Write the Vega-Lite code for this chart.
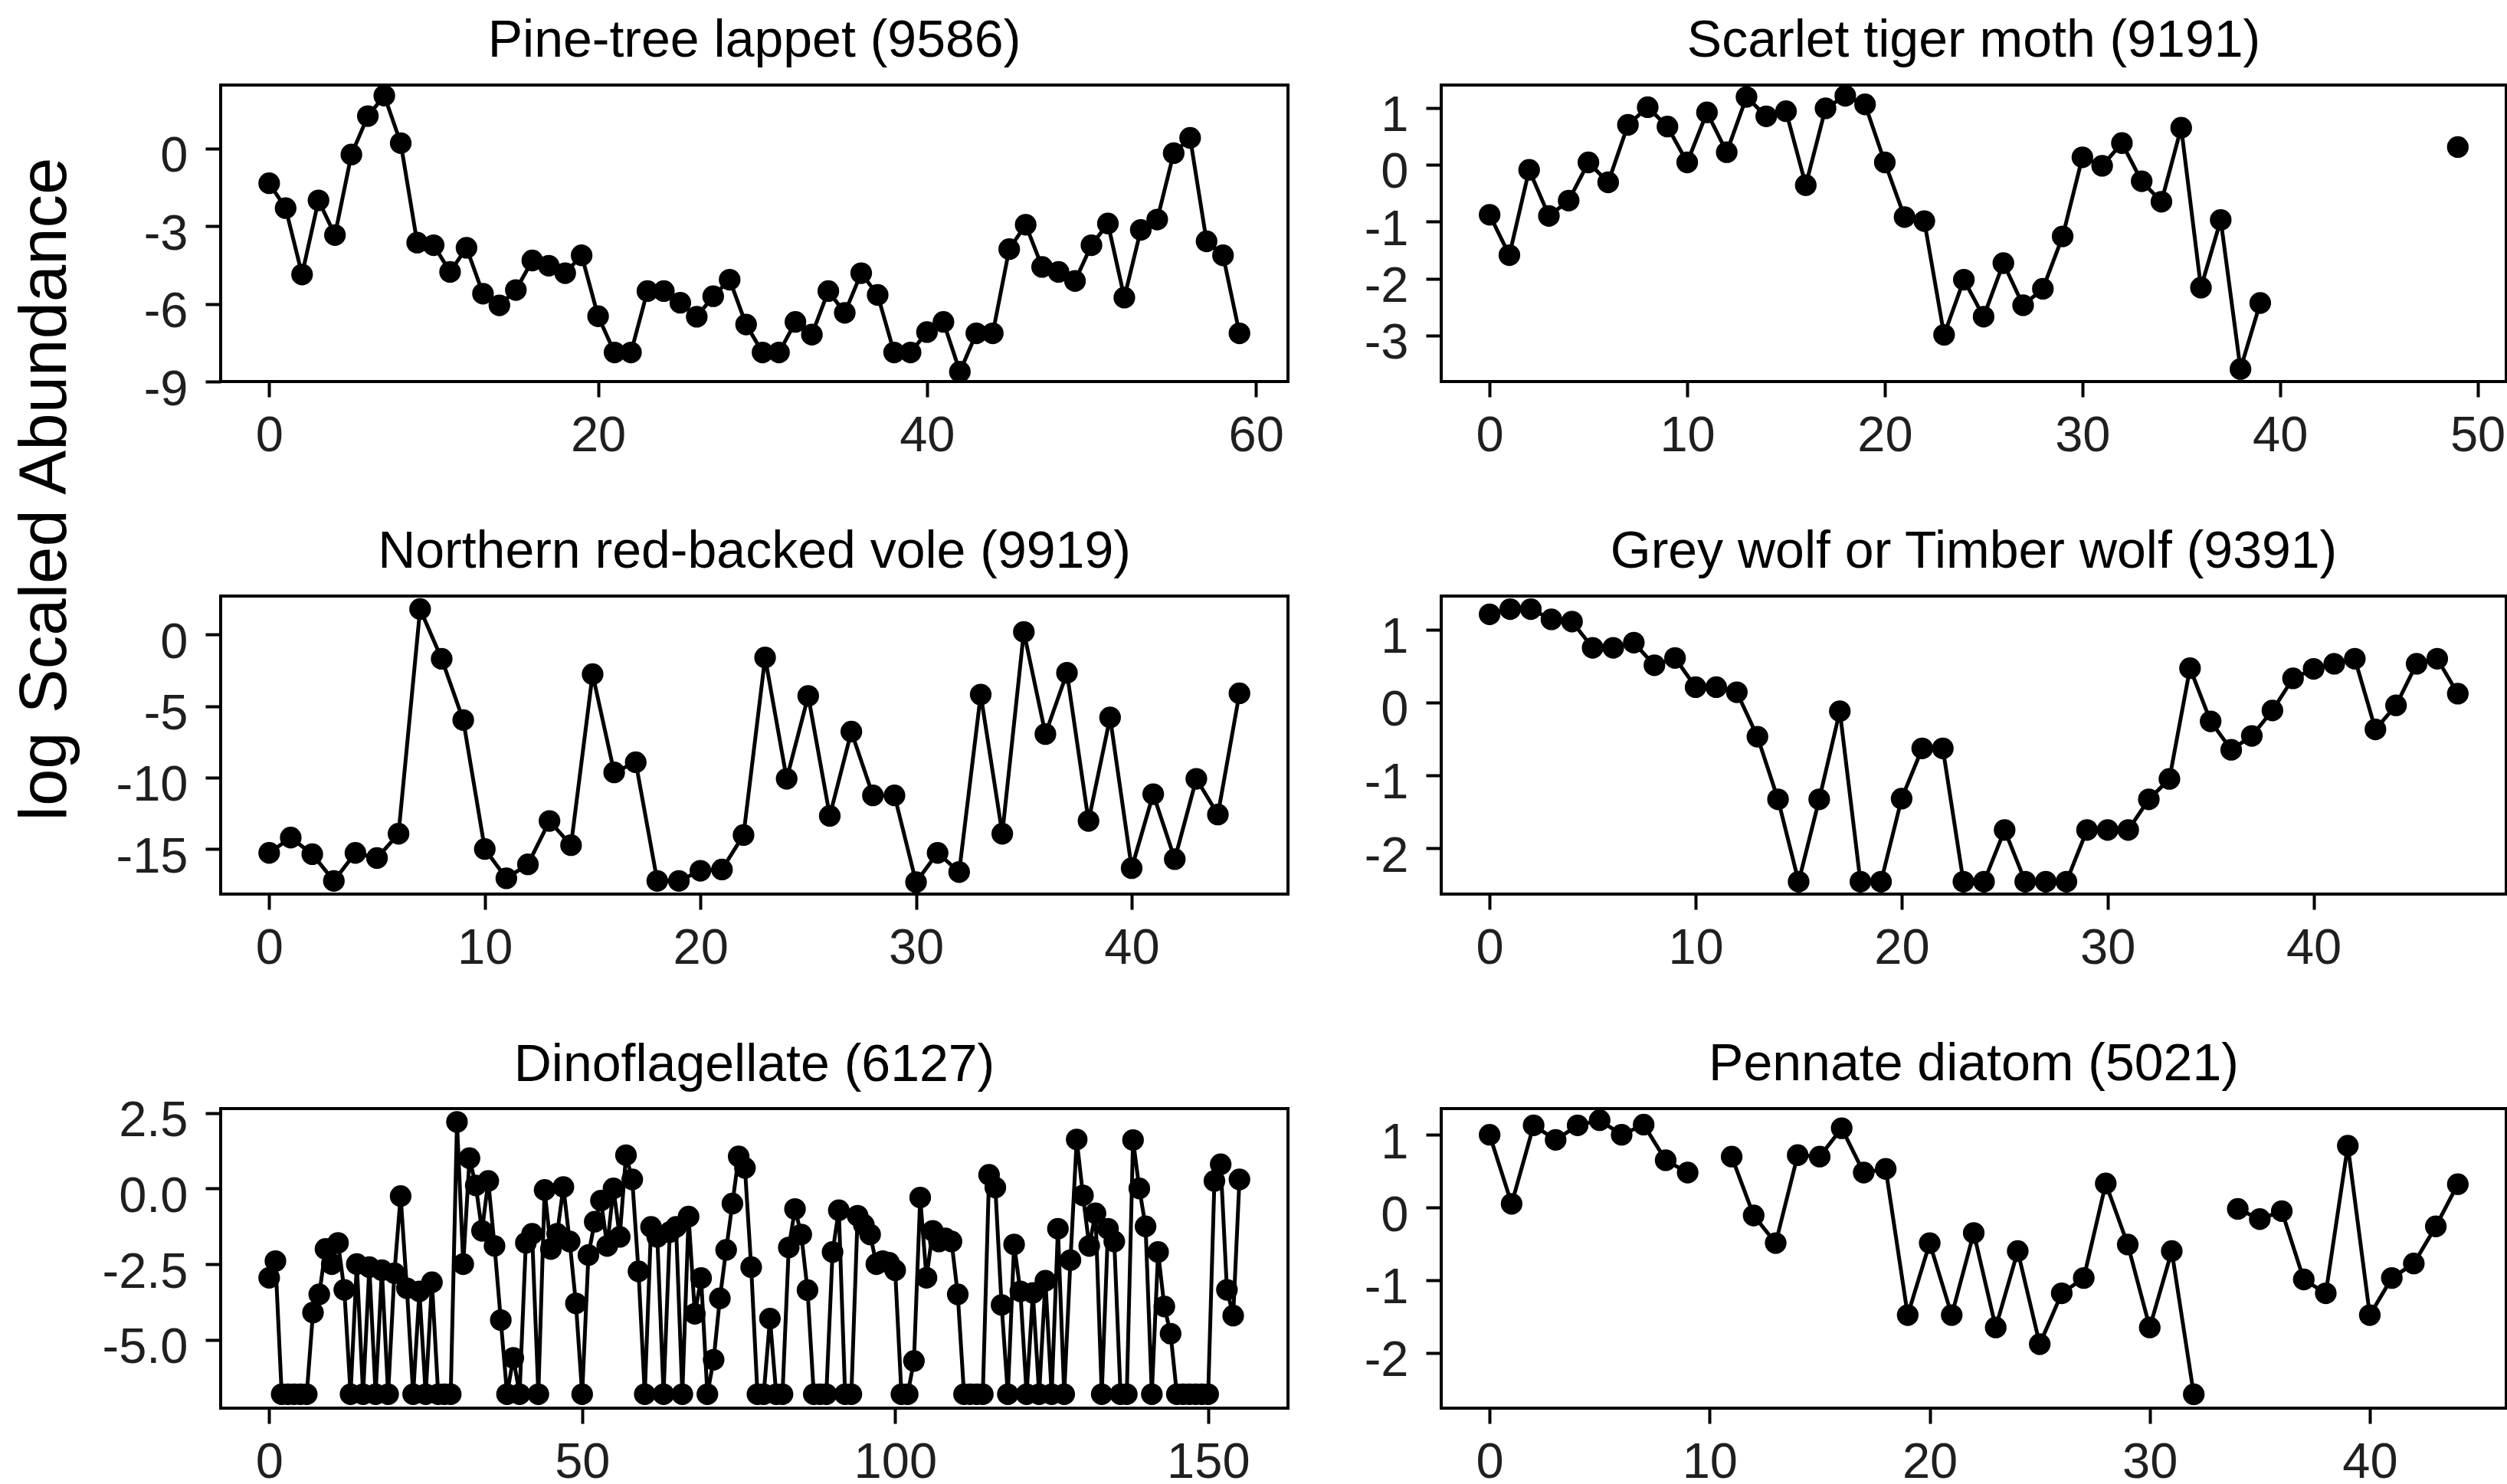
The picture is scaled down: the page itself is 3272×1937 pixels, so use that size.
{
  "$schema": "https://vega.github.io/schema/vega-lite/v6.json",
  "background": "white",
  "padding": {"left": 12, "top": 17, "right": 10, "bottom": 5},
  "autosize": {"type": "pad"},
  "columns": 2,
  "bounds": "flush",
  "spacing": {"row": 280, "column": 200},
  "datasets": {
    "p1": [
      {"t":0,"v":-1.35},{"t":1,"v":-2.31},{"t":2,"v":-4.87},{"t":3,"v":-2.01},{"t":4,"v":-3.35},{"t":5,"v":-0.24},{"t":6,"v":1.24},{"t":7,"v":2.03},{"t":8,"v":0.2},{"t":9,"v":-3.64},
      {"t":10,"v":-3.74},{"t":11,"v":-4.77},{"t":12,"v":-3.84},{"t":13,"v":-5.61},{"t":14,"v":-6.06},{"t":15,"v":-5.47},{"t":16,"v":-4.33},{"t":17,"v":-4.53},{"t":18,"v":-4.82},{"t":19,"v":-4.13},
      {"t":20,"v":-6.48},{"t":21,"v":-7.88},{"t":22,"v":-7.88},{"t":23,"v":-5.51},{"t":24,"v":-5.51},{"t":25,"v":-5.96},{"t":26,"v":-6.5},{"t":27,"v":-5.71},{"t":28,"v":-5.07},{"t":29,"v":-6.8},
      {"t":30,"v":-7.88},{"t":31,"v":-7.88},{"t":32,"v":-6.7},{"t":33,"v":-7.19},{"t":34,"v":-5.51},{"t":35,"v":-6.35},{"t":36,"v":-4.82},{"t":37,"v":-5.66},{"t":38,"v":-7.88},{"t":39,"v":-7.88},
      {"t":40,"v":-7.09},{"t":41,"v":-6.7},{"t":42,"v":-8.62},{"t":43,"v":-7.14},{"t":44,"v":-7.14},{"t":45,"v":-3.89},{"t":46,"v":-2.95},{"t":47,"v":-4.58},{"t":48,"v":-4.77},{"t":49,"v":-5.12},
      {"t":50,"v":-3.74},{"t":51,"v":-2.9},{"t":52,"v":-5.76},{"t":53,"v":-3.15},{"t":54,"v":-2.75},{"t":55,"v":-0.19},{"t":56,"v":0.4},{"t":57,"v":-3.59},{"t":58,"v":-4.13},{"t":59,"v":-7.14}
    ],
    "p2": [
      {"t":0,"v":-0.88},{"t":1,"v":-1.59},{"t":2,"v":-0.09},{"t":3,"v":-0.9},{"t":4,"v":-0.63},{"t":5,"v":0.04},{"t":6,"v":-0.31},{"t":7,"v":0.7},{"t":8,"v":1.01},{"t":9,"v":0.67},
      {"t":10,"v":0.04},{"t":11,"v":0.92},{"t":12,"v":0.22},{"t":13,"v":1.19},{"t":14,"v":0.85},{"t":15,"v":0.94},{"t":16,"v":-0.36},{"t":17,"v":0.99},{"t":18,"v":1.21},{"t":19,"v":1.06},
      {"t":20,"v":0.04},{"t":21,"v":-0.92},{"t":22,"v":-0.99},{"t":23,"v":-2.99},{"t":24,"v":-2.02},{"t":25,"v":-2.67},{"t":26,"v":-1.73},{"t":27,"v":-2.47},{"t":28,"v":-2.18},{"t":29,"v":-1.26},
      {"t":30,"v":0.13},{"t":31,"v":-0.02},{"t":32,"v":0.38},{"t":33,"v":-0.29},{"t":34,"v":-0.65},{"t":35,"v":0.65},{"t":36,"v":-2.16},{"t":37,"v":-0.97},{"t":38,"v":-3.59},{"t":39,"v":-2.43},
      {"t":40,"v":null},{"t":41,"v":null},{"t":42,"v":null},{"t":43,"v":null},{"t":44,"v":null},{"t":45,"v":null},{"t":46,"v":null},{"t":47,"v":null},{"t":48,"v":null},{"t":49,"v":0.31}
    ],
    "p3": [
      {"t":0,"v":-15.27},{"t":1,"v":-14.2},{"t":2,"v":-15.36},{"t":3,"v":-17.23},{"t":4,"v":-15.27},{"t":5,"v":-15.63},{"t":6,"v":-13.93},{"t":7,"v":1.78},{"t":8,"v":-1.7},{"t":9,"v":-5.98},
      {"t":10,"v":-15.0},{"t":11,"v":-17.05},{"t":12,"v":-16.07},{"t":13,"v":-13.04},{"t":14,"v":-14.73},{"t":15,"v":-2.77},{"t":16,"v":-9.64},{"t":17,"v":-8.93},{"t":18,"v":-17.23},{"t":19,"v":-17.23},
      {"t":20,"v":-16.52},{"t":21,"v":-16.43},{"t":22,"v":-14.02},{"t":23,"v":-1.61},{"t":24,"v":-10.09},{"t":25,"v":-4.29},{"t":26,"v":-12.68},{"t":27,"v":-6.79},{"t":28,"v":-11.25},{"t":29,"v":-11.25},
      {"t":30,"v":-17.32},{"t":31,"v":-15.27},{"t":32,"v":-16.61},{"t":33,"v":-4.2},{"t":34,"v":-13.93},{"t":35,"v":0.18},{"t":36,"v":-6.96},{"t":37,"v":-2.68},{"t":38,"v":-13.04},{"t":39,"v":-5.8},
      {"t":40,"v":-16.34},{"t":41,"v":-11.16},{"t":42,"v":-15.71},{"t":43,"v":-10.09},{"t":44,"v":-12.59},{"t":45,"v":-4.11}
    ],
    "p4": [
      {"t":0,"v":1.21},{"t":1,"v":1.28},{"t":2,"v":1.28},{"t":3,"v":1.14},{"t":4,"v":1.11},{"t":5,"v":0.75},{"t":6,"v":0.75},{"t":7,"v":0.82},{"t":8,"v":0.51},{"t":9,"v":0.61},
      {"t":10,"v":0.21},{"t":11,"v":0.21},{"t":12,"v":0.14},{"t":13,"v":-0.47},{"t":14,"v":-1.33},{"t":15,"v":-2.46},{"t":16,"v":-1.33},{"t":17,"v":-0.12},{"t":18,"v":-2.46},{"t":19,"v":-2.46},
      {"t":20,"v":-1.32},{"t":21,"v":-0.63},{"t":22,"v":-0.63},{"t":23,"v":-2.46},{"t":24,"v":-2.46},{"t":25,"v":-1.75},{"t":26,"v":-2.46},{"t":27,"v":-2.46},{"t":28,"v":-2.46},{"t":29,"v":-1.75},
      {"t":30,"v":-1.75},{"t":31,"v":-1.75},{"t":32,"v":-1.33},{"t":33,"v":-1.05},{"t":34,"v":0.47},{"t":35,"v":-0.26},{"t":36,"v":-0.65},{"t":37,"v":-0.46},{"t":38,"v":-0.11},{"t":39,"v":0.33},
      {"t":40,"v":0.46},{"t":41,"v":0.53},{"t":42,"v":0.6},{"t":43,"v":-0.37},{"t":44,"v":-0.04},{"t":45,"v":0.53},{"t":46,"v":0.6},{"t":47,"v":0.12}
    ],
    "p5": [
      {"t":0,"v":-2.95},{"t":1,"v":-2.4},{"t":2,"v":-6.8},{"t":3,"v":-6.8},{"t":4,"v":-6.8},{"t":5,"v":-6.8},{"t":6,"v":-6.8},{"t":7,"v":-4.1},{"t":8,"v":-3.5},{"t":9,"v":-2.0},
      {"t":10,"v":-2.5},{"t":11,"v":-1.8},{"t":12,"v":-3.35},{"t":13,"v":-6.8},{"t":14,"v":-2.5},{"t":15,"v":-6.8},{"t":16,"v":-2.6},{"t":17,"v":-6.8},{"t":18,"v":-2.7},{"t":19,"v":-6.8},
      {"t":20,"v":-2.8},{"t":21,"v":-0.25},{"t":22,"v":-3.3},{"t":23,"v":-6.8},{"t":24,"v":-3.4},{"t":25,"v":-6.8},{"t":26,"v":-3.1},{"t":27,"v":-6.8},{"t":28,"v":-6.8},{"t":29,"v":-6.8},
      {"t":30,"v":2.2},{"t":31,"v":-2.5},{"t":32,"v":1.0},{"t":33,"v":0.1},{"t":34,"v":-1.4},{"t":35,"v":0.25},{"t":36,"v":-1.9},{"t":37,"v":-4.35},{"t":38,"v":-6.8},{"t":39,"v":-5.6},
      {"t":40,"v":-6.8},{"t":41,"v":-1.8},{"t":42,"v":-1.5},{"t":43,"v":-6.8},{"t":44,"v":-0.05},{"t":45,"v":-2.0},{"t":46,"v":-1.5},{"t":47,"v":0.05},{"t":48,"v":-1.75},{"t":49,"v":-3.8},
      {"t":50,"v":-6.8},{"t":51,"v":-2.2},{"t":52,"v":-1.1},{"t":53,"v":-0.4},{"t":54,"v":-1.9},{"t":55,"v":0.0},{"t":56,"v":-1.6},{"t":57,"v":1.1},{"t":58,"v":0.3},{"t":59,"v":-2.74},
      {"t":60,"v":-6.8},{"t":61,"v":-1.27},{"t":62,"v":-1.6},{"t":63,"v":-6.8},{"t":64,"v":-1.44},{"t":65,"v":-1.27},{"t":66,"v":-6.8},{"t":67,"v":-0.93},{"t":68,"v":-4.14},{"t":69,"v":-2.96},
      {"t":70,"v":-6.8},{"t":71,"v":-5.66},{"t":72,"v":-3.63},{"t":73,"v":-2.03},{"t":74,"v":-0.5},{"t":75,"v":1.06},{"t":76,"v":0.68},{"t":77,"v":-2.6},{"t":78,"v":-6.8},{"t":79,"v":-6.8},
      {"t":80,"v":-4.3},{"t":81,"v":-6.8},{"t":82,"v":-6.8},{"t":83,"v":-1.95},{"t":84,"v":-0.68},{"t":85,"v":-1.52},{"t":86,"v":-3.36},{"t":87,"v":-6.8},{"t":88,"v":-6.8},{"t":89,"v":-6.8},
      {"t":90,"v":-2.1},{"t":91,"v":-0.72},{"t":92,"v":-6.8},{"t":93,"v":-6.8},{"t":94,"v":-0.9},{"t":95,"v":-1.2},{"t":96,"v":-1.52},{"t":97,"v":-2.5},{"t":98,"v":-2.4},{"t":99,"v":-2.45},
      {"t":100,"v":-2.7},{"t":101,"v":-6.8},{"t":102,"v":-6.8},{"t":103,"v":-5.7},{"t":104,"v":-0.3},{"t":105,"v":-2.95},{"t":106,"v":-1.4},{"t":107,"v":-1.75},{"t":108,"v":-1.65},{"t":109,"v":-1.75},
      {"t":110,"v":-3.5},{"t":111,"v":-6.8},{"t":112,"v":-6.8},{"t":113,"v":-6.8},{"t":114,"v":-6.8},{"t":115,"v":0.45},{"t":116,"v":0.03},{"t":117,"v":-3.85},{"t":118,"v":-6.8},{"t":119,"v":-1.85},
      {"t":120,"v":-3.4},{"t":121,"v":-6.8},{"t":122,"v":-3.45},{"t":123,"v":-6.8},{"t":124,"v":-3.05},{"t":125,"v":-6.8},{"t":126,"v":-1.33},{"t":127,"v":-6.8},{"t":128,"v":-2.37},{"t":129,"v":1.62},
      {"t":130,"v":-0.23},{"t":131,"v":-1.9},{"t":132,"v":-0.82},{"t":133,"v":-6.8},{"t":134,"v":-1.33},{"t":135,"v":-1.75},{"t":136,"v":-6.8},{"t":137,"v":-6.8},{"t":138,"v":1.6},{"t":139,"v":0.0},
      {"t":140,"v":-1.25},{"t":141,"v":-6.8},{"t":142,"v":-2.1},{"t":143,"v":-3.9},{"t":144,"v":-4.8},{"t":145,"v":-6.8},{"t":146,"v":-6.8},{"t":147,"v":-6.8},{"t":148,"v":-6.8},{"t":149,"v":-6.8},
      {"t":150,"v":-6.8},{"t":151,"v":0.25},{"t":152,"v":0.8},{"t":153,"v":-3.35},{"t":154,"v":-4.2},{"t":155,"v":0.3}
    ],
    "p6": [
      {"t":0,"v":1.0},{"t":1,"v":0.05},{"t":2,"v":1.13},{"t":3,"v":0.93},{"t":4,"v":1.13},{"t":5,"v":1.2},{"t":6,"v":1.0},{"t":7,"v":1.14},{"t":8,"v":0.65},{"t":9,"v":0.48},
      {"t":10,"v":null},{"t":11,"v":0.7},{"t":12,"v":-0.11},{"t":13,"v":-0.49},{"t":14,"v":0.72},{"t":15,"v":0.7},{"t":16,"v":1.09},{"t":17,"v":0.48},{"t":18,"v":0.53},{"t":19,"v":-1.48},
      {"t":20,"v":-0.49},{"t":21,"v":-1.48},{"t":22,"v":-0.35},{"t":23,"v":-1.65},{"t":24,"v":-0.6},{"t":25,"v":-1.88},{"t":26,"v":-1.18},{"t":27,"v":-0.97},{"t":28,"v":0.33},{"t":29,"v":-0.51},
      {"t":30,"v":-1.65},{"t":31,"v":-0.6},{"t":32,"v":-2.57},{"t":33,"v":null},{"t":34,"v":-0.02},{"t":35,"v":-0.16},{"t":36,"v":-0.05},{"t":37,"v":-0.99},{"t":38,"v":-1.18},{"t":39,"v":0.85},
      {"t":40,"v":-1.48},{"t":41,"v":-0.97},{"t":42,"v":-0.77},{"t":43,"v":-0.26},{"t":44,"v":0.32}
    ]
  },
  "concat": [
    {
      "width": 1393, "height": 387,
      "title": {"text": "Pine-tree lappet (9586)"},
      "data": {"name": "p1"},
      "encoding": {
        "x": {"field": "t", "type": "quantitative", "scale": {"domain": [-2.95, 61.95], "nice": false, "zero": false}, "axis": {"values": [0, 20, 40, 60], "title": null}},
        "y": {"field": "v", "type": "quantitative", "scale": {"domain": [-9.0, 2.44], "nice": false, "zero": false},
              "axis": {"values": [0, -3, -6, -9], "title": "log Scaled Abundance", "titleX": -229, "titleY": 527, "titleAngle": -90, "titleAlign": "center", "titleBaseline": "middle", "titleFontSize": 87, "titleFontWeight": "normal", "titleColor": "black", "titleFont": "Liberation Sans"}}
      },
      "layer": [
        {"mark": {"type": "line", "color": "black", "strokeWidth": 5, "invalid": "break-paths-show-domains"}},
        {"mark": {"type": "point", "filled": true, "color": "black", "opacity": 1, "size": 800}}
      ]
    },
    {
      "width": 1390, "height": 387,
      "title": {"text": "Scarlet tiger moth (9191)"},
      "data": {"name": "p2"},
      "encoding": {
        "x": {"field": "t", "type": "quantitative", "scale": {"domain": [-2.45, 51.45], "nice": false, "zero": false}, "axis": {"values": [0, 10, 20, 30, 40, 50], "title": null}},
        "y": {"field": "v", "type": "quantitative", "scale": {"domain": [-3.81, 1.4], "nice": false, "zero": false}, "axis": {"values": [1, 0, -1, -2, -3], "title": null}}
      },
      "layer": [
        {"mark": {"type": "line", "color": "black", "strokeWidth": 5, "invalid": "break-paths-show-domains"}},
        {"mark": {"type": "point", "filled": true, "color": "black", "opacity": 1, "size": 800}}
      ]
    },
    {
      "width": 1393, "height": 389,
      "title": {"text": "Northern red-backed vole (9919)"},
      "data": {"name": "p3"},
      "encoding": {
        "x": {"field": "t", "type": "quantitative", "scale": {"domain": [-2.25, 47.25], "nice": false, "zero": false}, "axis": {"values": [0, 10, 20, 30, 40], "title": null}},
        "y": {"field": "v", "type": "quantitative", "scale": {"domain": [-18.15, 2.69], "nice": false, "zero": false}, "axis": {"values": [0, -5, -10, -15], "title": null}}
      },
      "layer": [
        {"mark": {"type": "line", "color": "black", "strokeWidth": 5, "invalid": "break-paths-show-domains"}},
        {"mark": {"type": "point", "filled": true, "color": "black", "opacity": 1, "size": 800}}
      ]
    },
    {
      "width": 1390, "height": 389,
      "title": {"text": "Grey wolf or Timber wolf (9391)"},
      "data": {"name": "p4"},
      "encoding": {
        "x": {"field": "t", "type": "quantitative", "scale": {"domain": [-2.35, 49.35], "nice": false, "zero": false}, "axis": {"values": [0, 10, 20, 30, 40], "title": null}},
        "y": {"field": "v", "type": "quantitative", "scale": {"domain": [-2.63, 1.46], "nice": false, "zero": false}, "axis": {"values": [1, 0, -1, -2], "title": null}}
      },
      "layer": [
        {"mark": {"type": "line", "color": "black", "strokeWidth": 5, "invalid": "break-paths-show-domains"}},
        {"mark": {"type": "point", "filled": true, "color": "black", "opacity": 1, "size": 800}}
      ]
    },
    {
      "width": 1393, "height": 391,
      "title": {"text": "Dinoflagellate (6127)", "offset": 6},
      "data": {"name": "p5"},
      "encoding": {
        "x": {"field": "t", "type": "quantitative", "scale": {"domain": [-7.75, 162.75], "nice": false, "zero": false}, "axis": {"values": [0, 50, 100, 150], "title": null}},
        "y": {"field": "v", "type": "quantitative", "scale": {"domain": [-7.26, 2.64], "nice": false, "zero": false}, "axis": {"values": [2.5, 0, -2.5, -5], "format": ".1f", "title": null}}
      },
      "layer": [
        {"mark": {"type": "line", "color": "black", "strokeWidth": 5, "invalid": "break-paths-show-domains"}},
        {"mark": {"type": "point", "filled": true, "color": "black", "opacity": 1, "size": 800}}
      ]
    },
    {
      "width": 1390, "height": 391,
      "title": {"text": "Pennate diatom (5021)"},
      "data": {"name": "p6"},
      "encoding": {
        "x": {"field": "t", "type": "quantitative", "scale": {"domain": [-2.2, 46.2], "nice": false, "zero": false}, "axis": {"values": [0, 10, 20, 30, 40], "title": null}},
        "y": {"field": "v", "type": "quantitative", "scale": {"domain": [-2.76, 1.36], "nice": false, "zero": false}, "axis": {"values": [1, 0, -1, -2], "title": null}}
      },
      "layer": [
        {"mark": {"type": "line", "color": "black", "strokeWidth": 5, "invalid": "break-paths-show-domains"}},
        {"mark": {"type": "point", "filled": true, "color": "black", "opacity": 1, "size": 800}}
      ]
    }
  ],
  "config": {
    "font": "Liberation Sans",
    "view": {"stroke": "black", "strokeWidth": 4, "fill": "white"},
    "axis": {"grid": false, "domain": false, "ticks": true, "tickColor": "black", "tickWidth": 4, "tickSize": 20, "labelFont": "Liberation Sans", "labelFontSize": 65, "labelColor": "#1f1f1f", "labelFlush": false, "labelOverlap": false},
    "axisX": {"labelPadding": 19},
    "axisY": {"labelPadding": 23, "labelOffset": 10, "labelExpr": "replace(datum.label, '\u2212', '-')"},
    "title": {"font": "Liberation Sans", "fontSize": 68, "fontWeight": "normal", "color": "black", "anchor": "middle", "frame": "group", "baseline": "alphabetic", "offset": 23}
  }
}
